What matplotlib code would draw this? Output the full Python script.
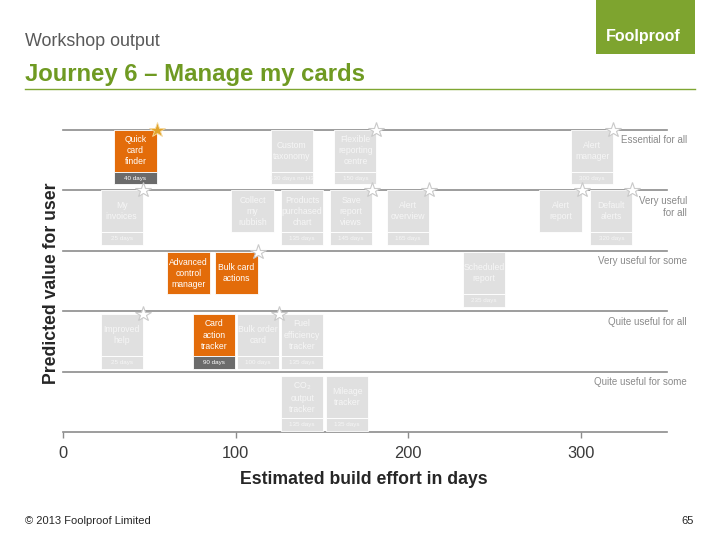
import matplotlib
matplotlib.use("Agg")
import matplotlib.pyplot as plt
from matplotlib.patches import Rectangle

plt.rcParams['font.family'] = ['Liberation Sans', 'DejaVu Sans']

# feature cards: label, value row (5 = essential ... 1 = quite useful for some),
# estimated effort (days, card centre), effort label, priority, star
features = ["Quick\ncard\nfinder", "Custom\ntaxonomy", "Flexible\nreporting\ncentre",
            "Alert\nmanager", "My\ninvoices", "Collect\nmy\nrubbish",
            "Products\npurchased\nchart", "Save\nreport\nviews", "Alert\noverview",
            "Alert\nreport", "Default\nalerts", "Advanced\ncontrol\nmanager",
            "Bulk card\nactions", "Scheduled\nreport", "Improved\nhelp",
            "Card\naction\ntracker", "Bulk order\ncard", "Fuel\nefficiency\ntracker",
            "CO$_2$\noutput\ntracker", "Mileage\ntracker"]
value_row = [5, 5, 5, 5, 4, 4, 4, 4, 4, 4, 4, 3, 3, 3, 2, 2, 2, 2, 1, 1]
effort = [42, 132.5, 169.4, 306.6, 34, 109.8, 138.6, 167, 200, 288.3, 317.7,
          72.7, 100.5, 243.9, 34, 87.4, 113.1, 138.6, 138.6, 164.7]
effort_label = ["40 days", "130 days no H3", "150 days", "300 days", "25 days", None,
                "135 days", "145 days", "165 days", None, "320 days", None, None,
                "235 days", "25 days", "90 days", "100 days", "135 days", "135 days",
                "135 days"]
priority = [True, False, False, False, False, False, False, False, False, False, False,
            True, True, False, False, True, False, False, False, False]
star = ["gold", None, "white", "white", "white", None, None, "white", "white", "white",
        "white", None, "white", None, "white", None, "white", None, None, None]

row_labels = ["Essential for all", "Very useful\nfor all", "Very useful for some",
              "Quite useful for all", "Quite useful for some"]
row_levels = [5, 4, 3, 2, 1]
xticks = [0, 100, 200, 300]

W, H = 720, 540
fig = plt.figure(figsize=(W / 100, H / 100), dpi=100)
ax = fig.add_axes([63 / W, 108 / H, 604 / W, 302 / H])
ax.set_xlim(0, 350)
ax.set_ylim(0, 5)

GREY_LINE = '#8c8c8c'
ORANGE = '#e36c0a'
CARD_GREY = '#e0e0e0'

# row separators
for lvl in row_levels:
    ax.plot([0, 350], [lvl, lvl], color=GREY_LINE, lw=1.2, zorder=1, clip_on=False)

for lab, lvl in zip(row_labels, row_levels):
    ax.text(361.5, lvl - 0.09, lab, ha='right', va='top', fontsize=7,
            color='#8a8a8a', linespacing=1.25, clip_on=False)

card_w = 24.5
body_h = 0.69
strip_h = 0.21
top_gap = {5: 0.0, 4: 0.0, 3: 0.025, 2: 0.05, 1: 0.08}

for i, name in enumerate(features):
    top = value_row[i] - top_gap[value_row[i]]
    left = effort[i] - card_w / 2
    face = ORANGE if priority[i] else CARD_GREY
    txt = 'white' if priority[i] else '#f6f6f6'
    ax.add_patch(Rectangle((left, top - body_h), card_w, body_h, facecolor=face,
                           edgecolor='white', lw=0.6, zorder=3, clip_on=False))
    ax.text(effort[i], top - body_h / 2, name, ha='center', va='center',
            fontsize=6.2, color=txt, linespacing=1.3, zorder=4)
    if effort_label[i]:
        sface = '#6b6b6b' if priority[i] else CARD_GREY
        ax.add_patch(Rectangle((left, top - body_h - strip_h), card_w, strip_h,
                               facecolor=sface, edgecolor='white', lw=0.6, zorder=3,
                               clip_on=False))
        ax.text(effort[i], top - body_h - strip_h / 2, effort_label[i], ha='center',
                va='center', fontsize=4.5, color=txt, zorder=4)
    if star[i] == "gold":
        ax.plot(left + card_w, top, marker='*', ms=11.5, mfc='#e2a52c', mec='#f5d9a0',
                mew=0.6, zorder=6, clip_on=False)
    elif star[i] == "white":
        ax.plot(left + card_w, top, marker='*', ms=11.5, mfc='white', mec='#c9c9c9',
                mew=0.8, zorder=6, clip_on=False)

# axis styling
for s in ['top', 'right', 'left']:
    ax.spines[s].set_visible(False)
ax.spines['bottom'].set_color(GREY_LINE)
ax.spines['bottom'].set_linewidth(1.2)
ax.set_yticks([])
ax.set_xticks(xticks)
ax.tick_params(axis='x', direction='out', length=4, width=1, color=GREY_LINE,
               labelsize=11.8, labelcolor='#3a3a3a', pad=6)
ax.patch.set_alpha(0)

fig.text(364 / W, 1 - 480 / H, "Estimated build effort in days", ha='center',
         va='center', fontsize=12.7, fontweight='bold', color='#262626')
fig.text(52 / W, 1 - 283 / H, "Predicted value for user", ha='center', va='center',
         rotation=90, fontsize=12.7, fontweight='bold', color='#262626')

# slide header
fig.text(25 / W, 1 - 42 / H, "Workshop output", ha='left', va='center', fontsize=12.9,
         color='#595959')
fig.text(25 / W, 1 - 74 / H, "Journey 6 \u2013 Manage my cards", ha='left',
         va='center', fontsize=17.2, fontweight='bold', color='#6f9a22')
fig.add_artist(plt.Line2D([25 / W, 695 / W], [1 - 89 / H, 1 - 89 / H],
                          color='#7fa632', lw=1.0))
fig.add_artist(Rectangle((596 / W, 1 - 54 / H), 99 / W, 54 / H, facecolor='#7ea42f',
                         edgecolor='none', transform=fig.transFigure))
fig.text(643 / W, 1 - 36 / H, "Foolproof", ha='center', va='center', fontsize=11.5,
         fontweight='bold', color='white')

# footer
fig.text(25 / W, 1 - 521 / H, "\u00a9 2013 Foolproof Limited", ha='left', va='center',
         fontsize=8, color='#262626')
fig.text(694 / W, 1 - 521 / H, "65", ha='right', va='center', fontsize=8,
         color='#262626')

fig.savefig("out.png", dpi=100)
